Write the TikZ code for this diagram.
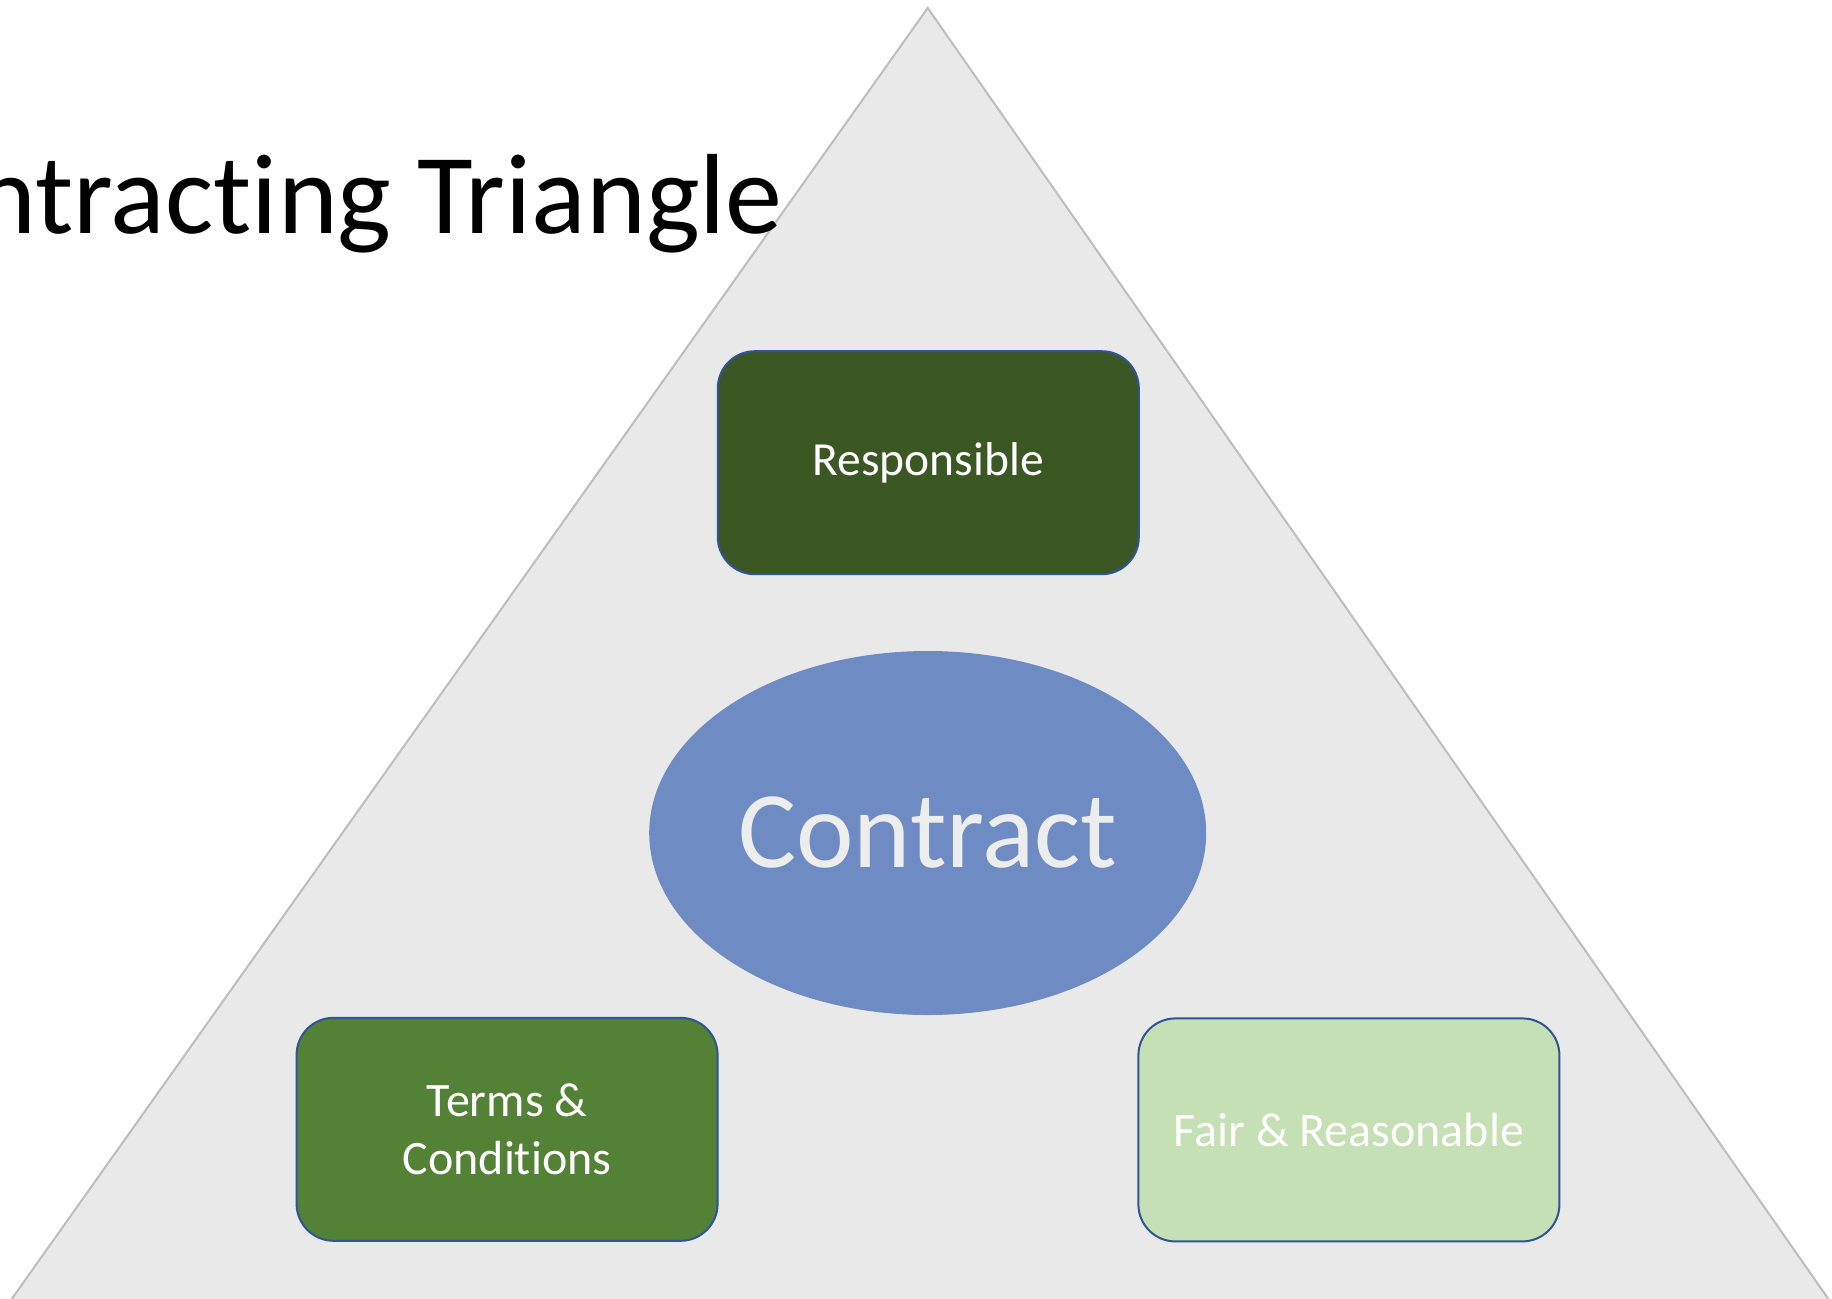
\documentclass[tikz,border=0pt]{standalone}
\usepackage{fontspec}
\setmainfont{Carlito}[Ligatures={NoCommon}]
\usetikzlibrary{shapes.geometric}
\definecolor{trifill}{HTML}{E9E9E9}
\definecolor{triline}{HTML}{BDBDBD}
\definecolor{boxline}{HTML}{2F5597}
\definecolor{darkgreen}{HTML}{3A5724}
\definecolor{midgreen}{HTML}{538135}
\definecolor{lightgreen}{HTML}{C5E0B4}
\definecolor{ellblue}{HTML}{6E8CC3}
\definecolor{contracttext}{HTML}{EDEDED}
\begin{document}
\begin{tikzpicture}[x=1pt,y=-1pt,
  boxstyle/.style={draw=boxline, line width=2pt, rounded corners=37pt,
    minimum width=421pt, minimum height=223pt, text=white, align=center,
    inner sep=0pt, font=\fontsize{48}{58}\selectfont},
  ellstyle/.style={ellipse, fill=ellblue, minimum width=557pt, minimum height=364pt,
    inner sep=0pt, text=contracttext, font=\fontsize{109}{120}\selectfont}]
\useasboundingbox (0,0) rectangle (1832,1299);
\fill[white] (0,0) rectangle (1832,1299);
% triangle
\coordinate (apex) at (927.7,8);
\coordinate (bl) at (-10.3,1330);
\coordinate (br) at (1850,1330);
\draw[fill=trifill, draw=triline, line width=2pt] (bl) -- (apex) -- (br) -- cycle;
% title
\node[anchor=base east, inner sep=0pt, font=\fontsize{114}{130}\selectfont] (title) at (783,233) {Contracting Triangle};
% boxes
\node[boxstyle, fill=darkgreen, font=\fontsize{47.5}{58}\selectfont] (resp) at (928.3,462.7) {Responsible};
\node[ellstyle] (contract) at (927.7,833) {Contract};
\node[boxstyle, fill=midgreen] (terms) at (507.1,1129.3) {Terms \&\\Conditions};
\node[boxstyle, fill=lightgreen] (fair) at (1348.9,1129.9) {Fair \& Reasonable};
\end{tikzpicture}
\end{document}
